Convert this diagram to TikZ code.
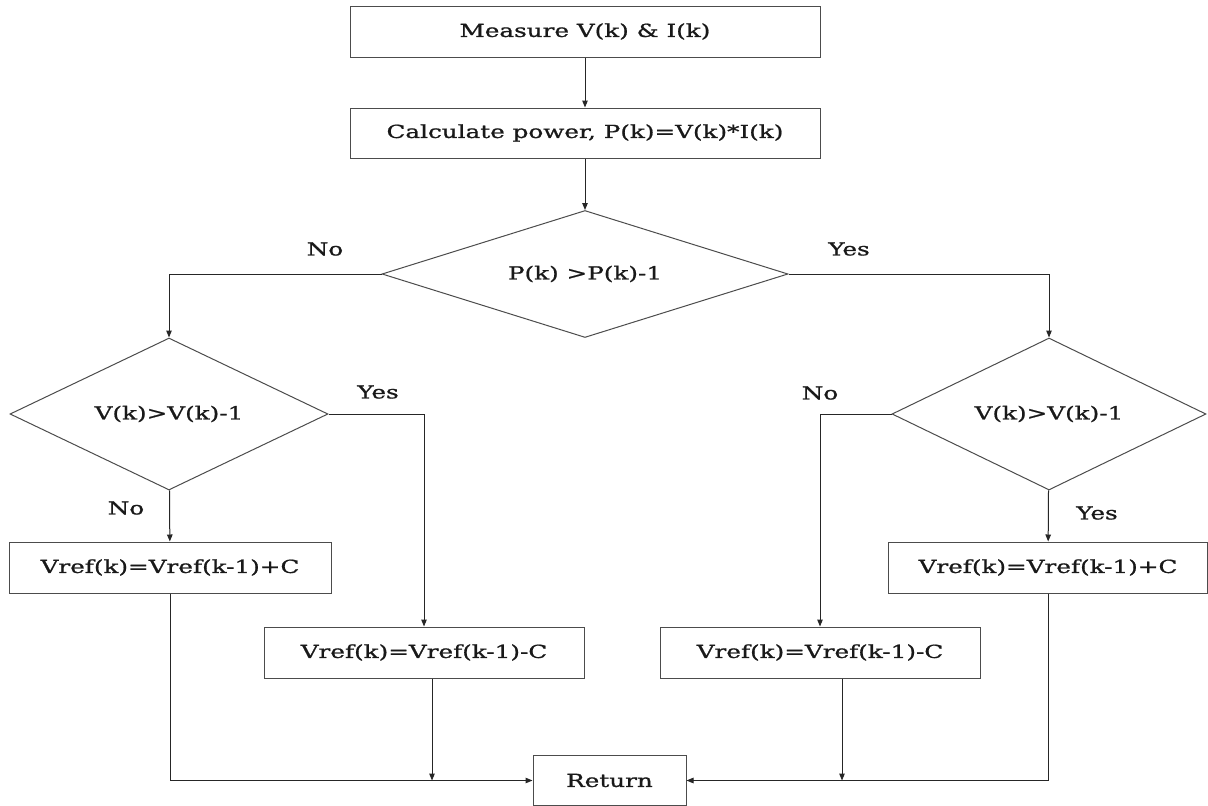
\documentclass[tikz,border=0pt]{standalone}
\usepackage{fontspec}
\usetikzlibrary{shapes.geometric,arrows.meta}
\newfontfamily\chartfont[FakeStretch=1.37,FakeBold=1]{DejaVu Serif}

\begin{document}
\begin{tikzpicture}[x=1pt,y=-1pt,
  font=\chartfont\fontsize{18}{21}\selectfont,text=black!90,
  box/.style={draw=black!70,line width=1pt,rectangle,inner sep=0pt},
  decision/.style={draw=black!70,line width=1pt,diamond,inner sep=0pt},
  flow/.style={draw=black!85,line width=1pt,-{Triangle[length=7pt,width=5.5pt]}}]
\useasboundingbox (0,0) rectangle (1208,806);
\fill[white] (0,0) rectangle (1208,806);

\node[box,minimum width=470pt,minimum height=51pt] (meas) at (585,31.5) {Measure V(k) \& I(k)};
\node[box,minimum width=470pt,minimum height=50pt] (calc) at (585,133) {Calculate power, P(k)=V(k)*I(k)};
\node[decision,aspect=3.2,minimum width=406pt,minimum height=127pt] (dec) at (585,274) {P(k) >P(k)-1};

\node[decision,aspect=2.1,minimum width=318pt,minimum height=152pt] (decl) at (169,414) {V(k)>V(k)-1};
\node[decision,aspect=2.1,minimum width=314pt,minimum height=152pt] (decr) at (1049,414) {V(k)>V(k)-1};

\node[box,minimum width=322pt,minimum height=51pt] (incl) at (170,567.5) {Vref(k)=Vref(k-1)+C};
\node[box,minimum width=319pt,minimum height=51pt] (incr) at (1048,567.5) {Vref(k)=Vref(k-1)+C};
\node[box,minimum width=320pt,minimum height=51pt] (decrl) at (424,652.5) {Vref(k)=Vref(k-1)-C};
\node[box,minimum width=320pt,minimum height=51pt] (decrr) at (820,652.5) {Vref(k)=Vref(k-1)-C};
\node[box,minimum width=153pt,minimum height=50pt] (ret) at (609.5,780.5) {Return};

\node (no1) at (325,249) {No};
\node (yes1) at (849,249) {Yes};
\node (yes2) at (378,392) {Yes};
\node (no2) at (126,508) {No};
\node (no3) at (820,393) {No};
\node (yes3) at (1097,513) {Yes};

\draw[flow] (meas) -- (calc);
\draw[flow] (calc) -- (dec);
\draw[flow] (dec.west) -| (decl.north);
\draw[flow] (dec.east) -| (decr.north);
\draw[flow] (decl.east) -| (decrl.north);
\draw[flow] (decl) -- (incl);
\draw[flow] (decr.west) -| (decrr.north);
\draw[flow] (decr) -- (incr);
\draw[flow] (incl.south) |- (ret.west);
\draw[flow] (incr.south) |- (ret.east);
\draw[flow] ([xshift=8pt]decrl.south) -- ([xshift=8pt]decrl.south |- ret.west);
\draw[flow] ([xshift=22pt]decrr.south) -- ([xshift=22pt]decrr.south |- ret.west);
\end{tikzpicture}
\end{document}
